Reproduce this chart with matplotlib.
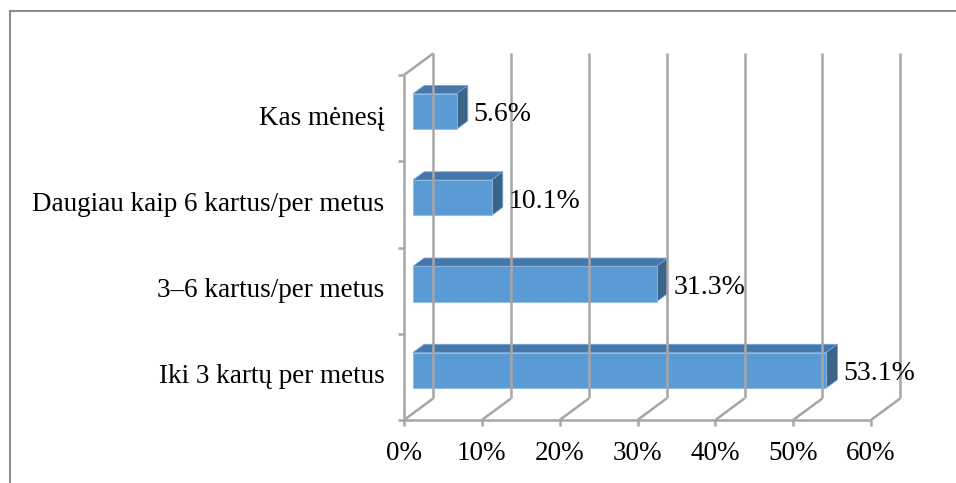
import matplotlib.pyplot as plt
from matplotlib.patches import Polygon
from matplotlib.lines import Line2D

# data (bottom to top, as drawn)
categories = ["Iki 3 kartų per metus", "3–6 kartus/per metus",
              "Daugiau kaip 6 kartus/per metus", "Kas mėnesį"]
values = [53.1, 31.3, 10.1, 5.6]
value_labels = ["53.1%", "31.3%", "10.1%", "5.6%"]
xticks = [0, 10, 20, 30, 40, 50, 60]
xtick_labels = ["0%", "10%", "20%", "30%", "40%", "50%", "60%"]

plt.rcParams['font.family'] = ['Liberation Serif', 'DejaVu Serif']

W, H = 956, 483
fig = plt.figure(figsize=(W / 100, H / 100), dpi=100)
ax = fig.add_axes([404 / W, (H - 420) / H, (871 - 404) / W, (420 - 75) / H])
ax.set_xlim(0, 60)
ax.set_ylim(0, len(categories))
ax.axis('off')

# oblique "depth" offset in data units
DX, DY = 3.75, 0.25
grid_c = '#A6A6A6'
n = len(categories)


def depth(x, y, f):
    return x + DX * f, y + DY * f


def line(xs, ys, **kw):
    ax.add_line(Line2D(xs, ys, color=grid_c, lw=1.8, clip_on=False,
                       solid_capstyle='butt', **kw))


# back wall gridlines + floor diagonals
for t in xticks:
    bx, by = depth(t, 0, 1)
    line([bx, bx], [by, n + DY])
    line([t, bx], [0, by])
    line([t, t], [0, -0.07])
# floor front edge
line([0, 60], [0, 0])
# left wall
line([0, 0], [0, n])
line([0, DX], [n, n + DY])
for i in range(n + 1):
    line([-0.75, 0], [i, i])

# bars
f0, f1 = 0.31, 0.69
h = 0.41
front_c, top_c, side_c = '#5B9BD5', '#4677A8', '#3A6488'
for i, v in enumerate(values):
    y0 = i + 0.5 - h / 2
    y1 = y0 + h
    x0a, y0a = depth(0, y0, f0)
    xva, _ = depth(v, y0, f0)
    _, y1a = depth(0, y1, f0)
    x0b, _ = depth(0, y0, f1)
    xvb, y0b = depth(v, y0, f1)
    _, y1b = depth(0, y1, f1)
    top = Polygon([(x0a, y1a), (xva, y1a), (xvb, y1b), (x0b, y1b)],
                  closed=True, fc=top_c, ec='#6FA3D6', lw=0.6, clip_on=False)
    side = Polygon([(xva, y0a), (xvb, y0b), (xvb, y1b), (xva, y1a)],
                   closed=True, fc=side_c, ec='#6FA3D6', lw=0.6, clip_on=False)
    front = Polygon([(x0a, y0a), (xva, y0a), (xva, y1a), (x0a, y1a)],
                    closed=True, fc=front_c, ec='#8DBBE6', lw=0.6, clip_on=False)
    for p in (top, side, front):
        ax.add_patch(p)
    ax.text(xvb + 0.7, (y0a + y1a) / 2 - 0.04, value_labels[i], fontsize=20,
            ha='left', va='center', color='black', clip_on=False)

# category labels
for i, c in enumerate(categories):
    ax.text(-2.5, i + 0.5, c, fontsize=19.5, ha='right', va='center', clip_on=False)

# x tick labels
for t, lab in zip(xticks, xtick_labels):
    ax.text(t, -0.39, lab, fontsize=19.5, ha='center', va='center', clip_on=False)

# outer chart border (only top and left visible)
fig.add_artist(Line2D([10 / W, 10 / W], [0, 1 - 11 / H], color='#8C8C8C', lw=1.5))
fig.add_artist(Line2D([10 / W, 1], [1 - 11 / H, 1 - 11 / H], color='#8C8C8C', lw=1.5))

fig.savefig('out.png', dpi=100)
